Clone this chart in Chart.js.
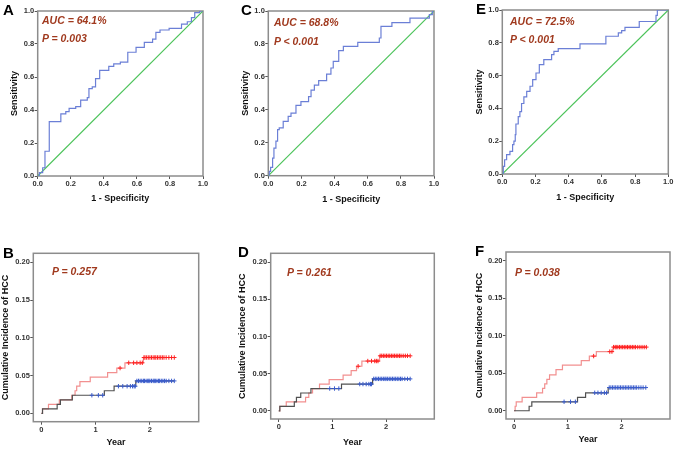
<!DOCTYPE html>
<html>
<head>
<meta charset="utf-8">
<script src="https://cdn.jsdelivr.net/npm/chart.js@4.4.1/dist/chart.umd.min.js"></script>
<style>
  body{margin:0;background:#fff;width:675px;height:449px;position:relative;overflow:hidden;font-family:Arial,"Liberation Sans",sans-serif}
  canvas{position:absolute}
  .lbl{position:absolute;font-weight:bold;font-size:15px;line-height:1;color:#000}
  .note{position:absolute;font-weight:bold;font-style:italic;font-size:10.5px;line-height:1;color:#a0391e;white-space:nowrap}
</style>
</head>
<body>
<canvas id="cA" width="225" height="212" style="left:0;top:0"></canvas>
<canvas id="cC" width="225" height="212" style="left:225px;top:0"></canvas>
<canvas id="cE" width="225" height="212" style="left:450px;top:0"></canvas>
<canvas id="cB" width="225" height="231" style="left:0;top:218px"></canvas>
<canvas id="cD" width="225" height="231" style="left:225px;top:218px"></canvas>
<canvas id="cF" width="225" height="231" style="left:450px;top:218px"></canvas>

<div class="lbl" style="left:3px;top:2px">A</div>
<div class="lbl" style="left:241px;top:2px">C</div>
<div class="lbl" style="left:476px;top:1px">E</div>
<div class="lbl" style="left:3px;top:245px">B</div>
<div class="lbl" style="left:238px;top:244px">D</div>
<div class="lbl" style="left:475px;top:243px">F</div>

<div class="note" style="left:42px;top:15px">AUC = 64.1%</div>
<div class="note" style="left:42px;top:33px">P = 0.003</div>
<div class="note" style="left:274px;top:17px">AUC = 68.8%</div>
<div class="note" style="left:274px;top:35.5px">P &lt; 0.001</div>
<div class="note" style="left:510px;top:15.5px">AUC = 72.5%</div>
<div class="note" style="left:510px;top:33.5px">P &lt; 0.001</div>
<div class="note" style="left:52px;top:265.5px">P = 0.257</div>
<div class="note" style="left:287px;top:266.5px">P = 0.261</div>
<div class="note" style="left:515px;top:266.5px">P = 0.038</div>

<script>
// ---- ROC data (1 - specificity / sensitivity) ----
const rocTicks = [0, 0.2, 0.4, 0.6, 0.8, 1.0];
const diagX = [0, 1];
const diagY = [0, 1];

const rocA_fpr = [0, 0.01, 0.03, 0.044, 0.07, 0.14, 0.17, 0.19, 0.23, 0.26, 0.30, 0.31, 0.33, 0.35, 0.375, 0.43, 0.46, 0.50, 0.545, 0.595, 0.645, 0.695, 0.715, 0.74, 0.795, 0.87, 0.905, 0.93, 0.95, 0.98, 1.0];
const rocA_tpr = [0, 0.02, 0.05, 0.15, 0.33, 0.376, 0.39, 0.41, 0.42, 0.46, 0.475, 0.53, 0.54, 0.59, 0.64, 0.665, 0.68, 0.69, 0.75, 0.78, 0.81, 0.83, 0.87, 0.885, 0.895, 0.92, 0.935, 0.96, 0.99, 1.0, 1.0];

const rocC_fpr = [0, 0.006, 0.014, 0.026, 0.034, 0.046, 0.056, 0.066, 0.09, 0.12, 0.137, 0.167, 0.197, 0.243, 0.258, 0.278, 0.304, 0.352, 0.378, 0.392, 0.425, 0.453, 0.54, 0.67, 0.68, 0.746, 0.855, 0.972, 0.99, 1.0];
const rocC_tpr = [0, 0.026, 0.05, 0.107, 0.168, 0.21, 0.28, 0.29, 0.33, 0.36, 0.38, 0.427, 0.45, 0.48, 0.52, 0.55, 0.577, 0.617, 0.654, 0.694, 0.76, 0.785, 0.81, 0.836, 0.907, 0.93, 0.957, 0.978, 1.0, 1.0];

const rocE_fpr = [0, 0.006, 0.014, 0.026, 0.046, 0.062, 0.07, 0.078, 0.082, 0.096, 0.106, 0.116, 0.13, 0.147, 0.167, 0.183, 0.203, 0.223, 0.25, 0.297, 0.311, 0.337, 0.468, 0.624, 0.699, 0.719, 0.739, 0.825, 0.926, 0.934, 1.0];
const rocE_tpr = [0, 0.047, 0.087, 0.118, 0.138, 0.179, 0.2, 0.24, 0.305, 0.35, 0.38, 0.43, 0.47, 0.504, 0.535, 0.575, 0.616, 0.667, 0.697, 0.728, 0.748, 0.764, 0.793, 0.84, 0.86, 0.874, 0.894, 0.93, 0.967, 1.0, 1.0];

// ---- cumulative incidence of HCC (year / incidence) ----
const yearTicks = [0, 1, 2];
const incTicks = [0, 0.05, 0.10, 0.15, 0.20];

const kmB_lowT  = [0, 0.02, 0.29, 0.35, 0.57, 1.16, 1.34, 1.74, 2.45];
const kmB_lowV  = [0, 0.006, 0.012, 0.018, 0.024, 0.030, 0.036, 0.043, 0.043];
const kmB_highT = [0, 0.02, 0.13, 0.33, 0.56, 0.62, 0.65, 0.71, 0.9, 1.22, 1.39, 1.54, 1.88, 2.45];
const kmB_highV = [0, 0.006, 0.012, 0.018, 0.024, 0.030, 0.036, 0.042, 0.048, 0.054, 0.060, 0.067, 0.074, 0.074];
const kmB_lowCens  = [0.93, 1.05, 1.13, 1.42, 1.5, 1.58, 1.64, 1.68, 1.71, 1.73, 1.76, 1.79, 1.82, 1.85, 1.88, 1.9, 1.93, 1.96, 1.98, 2.0, 2.03, 2.06, 2.08, 2.1, 2.13, 2.16, 2.18, 2.21, 2.24, 2.27, 2.3, 2.35, 2.4, 2.45];
const kmB_highCens = [1.45, 1.61, 1.7, 1.76, 1.82, 1.86, 1.89, 1.91, 1.94, 1.97, 2.0, 2.03, 2.06, 2.09, 2.11, 2.14, 2.17, 2.2, 2.23, 2.26, 2.3, 2.35, 2.4, 2.45];

const kmD_lowT  = [0, 0.02, 0.29, 0.33, 0.41, 0.6, 1.17, 1.75, 2.45];
const kmD_lowV  = [0, 0.006, 0.012, 0.018, 0.024, 0.030, 0.036, 0.043, 0.043];
const kmD_highT = [0, 0.02, 0.14, 0.5, 0.56, 0.63, 0.76, 0.94, 1.2, 1.35, 1.45, 1.55, 1.88, 2.45];
const kmD_highV = [0, 0.006, 0.012, 0.018, 0.024, 0.030, 0.036, 0.042, 0.048, 0.054, 0.060, 0.067, 0.074, 0.074];
const kmD_lowCens  = [0.95, 1.04, 1.12, 1.51, 1.57, 1.63, 1.68, 1.71, 1.73, 1.77, 1.8, 1.83, 1.86, 1.89, 1.92, 1.95, 1.98, 2.0, 2.03, 2.06, 2.09, 2.12, 2.15, 2.18, 2.21, 2.24, 2.27, 2.3, 2.35, 2.4, 2.45];
const kmD_highCens = [1.48, 1.66, 1.73, 1.79, 1.82, 1.85, 1.89, 1.92, 1.95, 1.98, 2.01, 2.04, 2.07, 2.1, 2.13, 2.16, 2.19, 2.22, 2.25, 2.28, 2.32, 2.36, 2.4, 2.45];

const kmF_lowT  = [0, 0.28, 0.33, 1.18, 1.33, 1.75, 2.45];
const kmF_lowV  = [0, 0.006, 0.012, 0.018, 0.024, 0.031, 0.031];
const kmF_highT = [0, 0.02, 0.04, 0.15, 0.42, 0.53, 0.57, 0.61, 0.66, 0.78, 0.9, 1.25, 1.4, 1.53, 1.84, 2.45];
const kmF_highV = [0, 0.006, 0.012, 0.018, 0.024, 0.030, 0.036, 0.042, 0.048, 0.055, 0.061, 0.067, 0.073, 0.079, 0.085, 0.085];
const kmF_lowCens  = [0.93, 1.05, 1.14, 1.5, 1.56, 1.62, 1.68, 1.72, 1.77, 1.8, 1.83, 1.86, 1.89, 1.92, 1.95, 1.98, 2.01, 2.04, 2.07, 2.1, 2.13, 2.16, 2.19, 2.22, 2.25, 2.28, 2.32, 2.36, 2.4, 2.45];
const kmF_highCens = [1.48, 1.78, 1.82, 1.85, 1.88, 1.9, 1.93, 1.96, 1.99, 2.02, 2.05, 2.08, 2.11, 2.14, 2.17, 2.2, 2.23, 2.26, 2.3, 2.34, 2.38, 2.42, 2.46];

const FONT = 'Arial, "Liberation Sans", sans-serif';

function pts(xs, ys){ return xs.map((x,i)=>({x, y: ys[i]})); }
function levelAt(ts, vs, t){ let v = vs[0]; ts.forEach((tt,i)=>{ if (tt <= t) v = vs[i]; }); return v; }
function cens(ts, vs, times){ return times.map(t=>({x: t, y: levelAt(ts, vs, t)})); }

// grey box round the plot area
const framePlugin = {
  id: 'frame',
  beforeDatasetsDraw(chart){
    const {ctx, chartArea: a} = chart;
    ctx.save();
    ctx.strokeStyle = '#8c8c8c'; ctx.lineWidth = 1.5;
    ctx.strokeRect(a.left, a.top, a.right - a.left, a.bottom - a.top);
    ctx.restore();
  }
};

function axis(min, max, ticks, fmt, title, size, titlePad){
  return {
    type: 'linear', min, max,
    afterBuildTicks: s => { s.ticks = ticks.map(v=>({value: v})); },
    afterFit: s => { if (s.isHorizontal()) s.height = size; else s.width = size; },
    grid: { drawOnChartArea: false, drawTicks: true, tickLength: 3, color: '#555', lineWidth: 1 },
    border: { display: false },
    ticks: { font: {size: 7.5, weight: 'bold', family: FONT}, color: '#333', padding: 0.5,
             autoSkip: false, maxRotation: 0, callback: v => fmt(v) },
    title: { display: true, text: title, font: {size: 9, weight: 'bold', family: FONT}, color: '#111', padding: titlePad }
  };
}

function baseOptions(box, xAxis, yAxis){
  return {
    responsive: false, animation: false, events: [],
    layout: { padding: { left: 0, top: box.plot[1], right: box.w - box.plot[2], bottom: 0 } },
    plugins: { legend: {display: false}, tooltip: {enabled: false} },
    scales: { x: xAxis, y: yAxis }
  };
}

function rocChart(id, fpr, tpr, box){
  const xAxis = axis(0, 1, rocTicks, v=>v.toFixed(1), '1 - Specificity', box.h - box.plot[3], {top: 0, bottom: box.h - box.xTitleY - 5.4});
  const yAxis = axis(0, 1, rocTicks, v=>v.toFixed(1), 'Sensitivity', box.plot[0], {top: box.yTitleX - 5.4, bottom: 0});
  new Chart(document.getElementById(id), {
    type: 'line',
    data: { datasets: [
      { data: pts(fpr, tpr), stepped: true, borderColor: '#6b7fd6', borderWidth: 1.2, pointRadius: 0, fill: false },
      { data: pts(diagX, diagY), borderColor: '#4cc35a', backgroundColor: '#4cc35a', borderWidth: 1.2, pointRadius: 0, fill: false }
    ]},
    options: baseOptions(box, xAxis, yAxis),
    plugins: [framePlugin]
  });
}

function kmChart(id, lowT, lowV, highT, highV, lowCens, highCens, box){
  const xAxis = axis(-0.15, 2.9, yearTicks, v=>String(v), 'Year', box.h - box.plot[3], {top: 0, bottom: box.h - box.xTitleY - 5.4});
  const yAxis = axis(-0.011, 0.212, incTicks, v=>v.toFixed(2), 'Cumulative Incidence of HCC', box.plot[0], {top: box.yTitleX - 5.4, bottom: 0});
  new Chart(document.getElementById(id), {
    type: 'line',
    data: { datasets: [
      { data: cens(highT, highV, highCens), showLine: false, pointStyle: 'cross', pointRadius: 2.2, borderColor: '#ff2020', borderWidth: 1 },
      { data: cens(lowT, lowV, lowCens), showLine: false, pointStyle: 'cross', pointRadius: 2.2, borderColor: '#3a5ccc', borderWidth: 1 },
      { data: pts(lowT, lowV), stepped: true, borderColor: '#505050', borderWidth: 1.2, pointRadius: 0, fill: false },
      { data: pts(highT, highV), stepped: true, borderColor: '#f29090', borderWidth: 1.2, pointRadius: 0, fill: false }
    ]},
    options: baseOptions(box, xAxis, yAxis),
    plugins: [framePlugin]
  });
}

rocChart('cA', rocA_fpr, rocA_tpr, {w: 225, h: 212, plot: [37.7, 11, 203, 176], yTitleX: 15, xTitleY: 199});
rocChart('cC', rocC_fpr, rocC_tpr, {w: 225, h: 212, plot: [43.3, 11, 209, 175.7], yTitleX: 21, xTitleY: 200});
rocChart('cE', rocE_fpr, rocE_tpr, {w: 225, h: 212, plot: [52.3, 10, 218.3, 174], yTitleX: 30, xTitleY: 198});

kmChart('cB', kmB_lowT, kmB_lowV, kmB_highT, kmB_highV, kmB_lowCens, kmB_highCens, {w: 225, h: 231, plot: [33.3, 35.3, 198.7, 203.7], yTitleX: 6, xTitleY: 224.7});
kmChart('cD', kmD_lowT, kmD_lowV, kmD_highT, kmD_highV, kmD_lowCens, kmD_highCens, {w: 225, h: 231, plot: [45.7, 35.3, 209.3, 201], yTitleX: 18, xTitleY: 224.7});
kmChart('cF', kmF_lowT, kmF_lowV, kmF_highT, kmF_highV, kmF_lowCens, kmF_highCens, {w: 225, h: 231, plot: [56, 34, 220, 201], yTitleX: 30, xTitleY: 222});
</script>
</body>
</html>
